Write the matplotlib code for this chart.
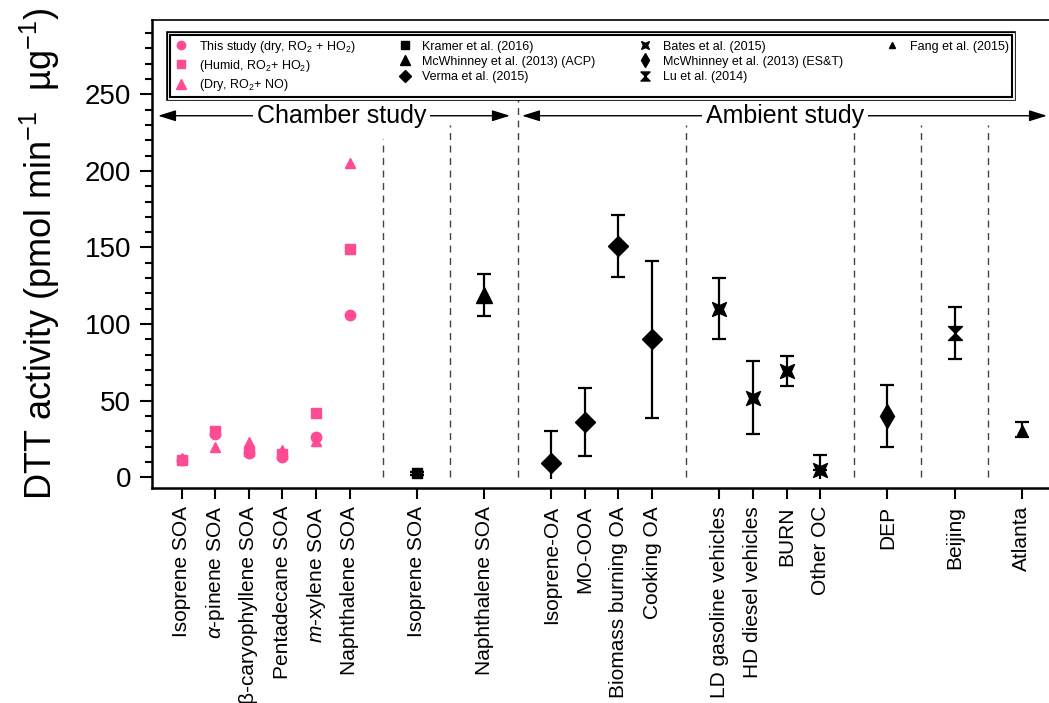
import matplotlib
matplotlib.use('Agg')
import matplotlib.pyplot as plt
import matplotlib.patheffects as pe
from matplotlib.path import Path
from matplotlib.lines import Line2D
from matplotlib.ticker import MultipleLocator

plt.rcParams['font.family'] = 'Liberation Sans'
plt.rcParams['mathtext.fontset'] = 'custom'
plt.rcParams['mathtext.rm'] = 'Liberation Sans'
plt.rcParams['mathtext.it'] = 'Liberation Sans:italic'
plt.rcParams['mathtext.bf'] = 'Liberation Sans:bold'

# category positions on the x axis and their labels
positions = [1, 2, 3, 4, 5, 6, 8, 10, 12, 13, 14, 15, 17, 18, 19, 20, 22, 24, 26]
tick_labels = ['Isoprene SOA', r'$\alpha$-pinene SOA', 'β-caryophyllene SOA',
               'Pentadecane SOA', r'$m$-xylene SOA', 'Naphthalene SOA',
               'Isoprene SOA', 'Naphthalene SOA',
               'Isoprene-OA', 'MO-OOA', 'Biomass burning OA', 'Cooking OA',
               'LD gasoline vehicles', 'HD diesel vehicles', 'BURN', 'Other OC',
               'DEP', 'Beijing', 'Atlanta']

# this study (chamber)
this_x = [1, 2, 3, 4, 5, 6]
dry_ho2 = [11, 28, 16, 13, 26, 106]
humid_ho2 = [11, 30, 17, 15.5, 42, 149]
dry_no = [12.5, 20, 23, 18, 24, 205]

# literature values: x, mean, lower err, upper err
kramer_x, kramer_y, kramer_err = [8], [2.5], [1]
mcw_acp_x, mcw_acp_y, mcw_acp_err = [10], [119], [14]
verma_x = [12, 13, 14, 15]
verma_y = [9, 36, 151, 90]
verma_lo = [10, 22, 20, 51]
verma_hi = [21, 22, 20, 51]
verma_lowcap = [False, True, True, True]
bates_x = [17, 18, 19, 20]
bates_y = [110, 52, 69.5, 5]
bates_lo = [20, 24, 10, 6]
bates_hi = [20, 24, 9.5, 9.5]
bates_lowcap = [True, True, True, False]
mcw_est_x, mcw_est_y, mcw_est_err = [22], [40], [20]
lu_x, lu_y, lu_err = [24], [94], [17]
fang_x, fang_y, fang_err = [26], [31], [5]

# dashed separators
sep_x = [7, 9, 11, 16, 21, 23, 25]
sep_top = [221, 230, 248, 230, 226, 230, 230]

pink = '#FF4A94'

hourglass = Path([(-1, 1), (1, 1), (0, 0), (-1, 1),
                  (-1, -1), (1, -1), (0, 0), (-1, -1)],
                 [Path.MOVETO, Path.LINETO, Path.LINETO, Path.CLOSEPOLY,
                  Path.MOVETO, Path.LINETO, Path.LINETO, Path.CLOSEPOLY])
notch = 0.55
bates_marker = Path([(1, 1), (0, notch), (-1, 1), (-notch, 0), (-1, -1),
                     (0, -notch), (1, -1), (notch, 0), (1, 1)],
                    [Path.MOVETO] + [Path.LINETO] * 7 + [Path.CLOSEPOLY])

fig = plt.figure(figsize=(10.49, 7.03), dpi=100)
ax = fig.add_axes([152 / 1049, 215 / 703, 900 / 1049, 468 / 703])
ax.set_xlim(0.12, 26.9)
ax.set_ylim(-7, 298.5)

ax.vlines(sep_x, 0, sep_top, colors='#444444', linestyles=(0, (5, 4)), lw=1)

ax.plot(this_x, dry_no, '^', color=pink, ms=7.5, ls='none')
ax.plot(this_x, humid_ho2, 's', color=pink, ms=7, ls='none')
ax.plot(this_x, dry_ho2, 'o', color=pink, ms=7.5, ls='none')

eb = dict(color='k', ls='none', capsize=5, elinewidth=1.6, capthick=1.6)


def draw_err(x, y, lo, hi, lowcap, marker, ms):
    for xi, yi, l, h, c in zip(x, y, lo, hi, lowcap):
        if c:
            ax.errorbar([xi], [yi], yerr=[[l], [h]], marker=marker, ms=ms, **eb)
        else:
            ax.vlines(xi, yi - l, yi, colors='k', lw=1.6)
            ax.errorbar([xi], [yi], yerr=[[0], [h]], marker=marker, ms=ms, **eb)


draw_err(kramer_x, kramer_y, kramer_err, kramer_err, [True], 's', 7)
draw_err(mcw_acp_x, mcw_acp_y, mcw_acp_err, mcw_acp_err, [True], '^', 11)
draw_err(verma_x, verma_y, verma_lo, verma_hi, verma_lowcap, 'D', 10)
draw_err(bates_x, bates_y, bates_lo, bates_hi, bates_lowcap, bates_marker, 10)
draw_err(mcw_est_x, mcw_est_y, mcw_est_err, mcw_est_err, [True], 'd', 12)
draw_err(lu_x, lu_y, lu_err, lu_err, [True], hourglass, 10)
draw_err(fang_x, fang_y, fang_err, fang_err, [True], '^', 7)

# section arrows
head = '<|-|>,head_length=0.9,head_width=0.28'
ax.annotate('', xy=(0.3, 236), xytext=(10.77, 236),
            arrowprops=dict(arrowstyle=head, color='k', lw=1, mutation_scale=12,
                            shrinkA=0, shrinkB=0))
ax.annotate('', xy=(11.13, 236), xytext=(26.75, 236),
            arrowprops=dict(arrowstyle=head, color='k', lw=1, mutation_scale=12,
                            shrinkA=0, shrinkB=0))
ax.text(5.76, 231, 'Chamber study', ha='center', va='baseline', fontsize=18,
        bbox=dict(fc='white', ec='none', pad=3))
ax.text(18.96, 231, 'Ambient study', ha='center', va='baseline', fontsize=18,
        bbox=dict(fc='white', ec='none', pad=3))

# legend (two blank entries so the last column holds only one item)
handles = [
    Line2D([], [], marker='o', color=pink, ls='none', ms=6),
    Line2D([], [], marker='s', color=pink, ls='none', ms=6),
    Line2D([], [], marker='^', color=pink, ls='none', ms=6.5),
    Line2D([], [], marker='s', color='k', ls='none', ms=6),
    Line2D([], [], marker='^', color='k', ls='none', ms=7),
    Line2D([], [], marker='D', color='k', ls='none', ms=6.5),
    Line2D([], [], marker=bates_marker, color='k', ls='none', ms=5.5),
    Line2D([], [], marker='d', color='k', ls='none', ms=7.5),
    Line2D([], [], marker=hourglass, color='k', ls='none', ms=6.5),
    Line2D([], [], marker='^', color='k', ls='none', ms=5),
    Line2D([], [], ls='none'),
    Line2D([], [], ls='none'),
]
labels = [
    'This study (dry, RO$_2$ + HO$_2$)', '(Humid, RO$_2$+ HO$_2$)', '(Dry, RO$_2$+ NO)',
    'Kramer et al. (2016)', 'McWhinney et al. (2013) (ACP)', 'Verma et al. (2015)',
    'Bates et al. (2015)', 'McWhinney et al. (2013) (ES&T)', 'Lu et al. (2014)',
    'Fang et al. (2015)', ' ', ' ',
]
leg = ax.legend(handles, labels, ncol=4, loc='upper left',
                bbox_to_anchor=(0.02, 0.846, 0.936, 0.122), mode='expand',
                borderaxespad=0, fontsize=9, fancybox=False, edgecolor='k',
                framealpha=1, handlelength=1.2, handletextpad=0.8,
                labelspacing=0.25, borderpad=0.3)
frame = leg.get_frame()
frame.set_linewidth(1.5)
frame.set_path_effects([pe.Stroke(linewidth=5.5, foreground='k'),
                        pe.Stroke(linewidth=3.5, foreground='w'),
                        pe.Normal()])

# axes styling
ax.set_xticks(positions, tick_labels, rotation=90)
ax.yaxis.set_major_locator(MultipleLocator(50))
ax.yaxis.set_minor_locator(MultipleLocator(10))
ax.tick_params(axis='y', which='major', direction='out', length=9, width=1.5,
               labelsize=20, pad=6)
ax.tick_params(axis='y', which='minor', direction='out', length=5, width=1.5)
ax.tick_params(axis='x', direction='out', length=8, width=1.5, labelsize=15, pad=5)
for s in ['left', 'bottom']:
    ax.spines[s].set_linewidth(1.8)
ax.spines['top'].set_linewidth(1.2)
ax.spines['right'].set_visible(False)

ax.set_ylabel('DTT activity (pmol min$^{-1}$  µg$^{-1}$)', fontsize=26)
ax.yaxis.set_label_coords(-0.1, 0.5)

fig.savefig('out.png', dpi=100)
